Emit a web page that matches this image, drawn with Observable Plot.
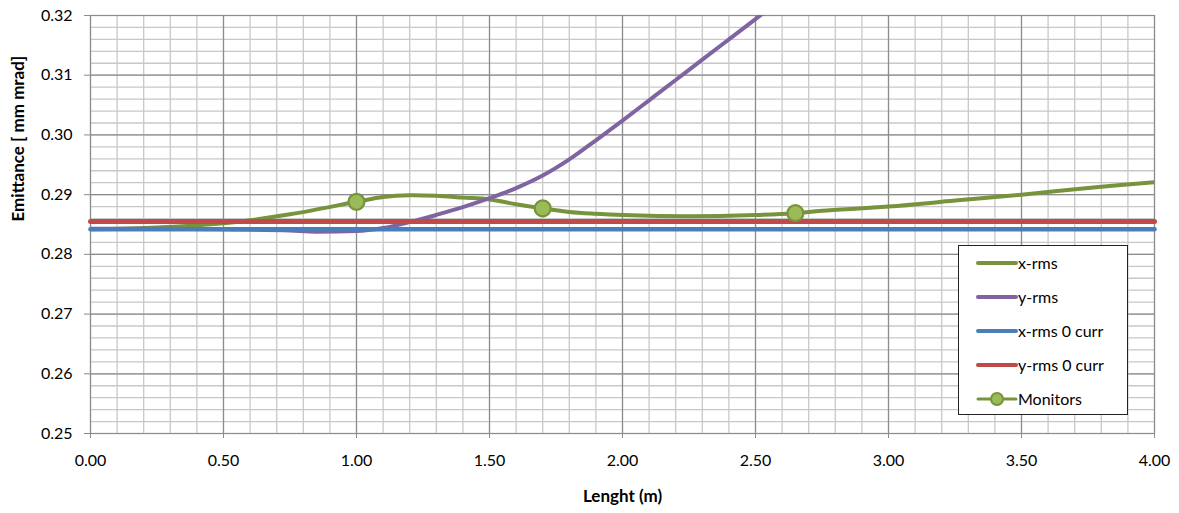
<!DOCTYPE html>
<html>
<head>
<meta charset="utf-8">
<script src="https://cdn.jsdelivr.net/npm/d3@7"></script>
<script src="https://cdn.jsdelivr.net/npm/@observablehq/plot@0.6"></script>
<style>
  html, body { margin: 0; padding: 0; background: #fff; }
  #chart { position: relative; width: 1179px; height: 513px; font-family: Lato, "Open Sans", sans-serif; }
  #legend { position: absolute; left: 958px; top: 245px; width: 170px; height: 170px;
            border: 1.5px solid #222; background: #fff; box-sizing: border-box; }
  #legend .row { position: absolute; left: 0; height: 20px; width: 100%; }
  #legend svg { position: absolute; left: 17px; top: 0; }
  #legend span { position: absolute; left: 59px; top: 0; line-height: 20px; font-size: 16px; color: #000; white-space: nowrap; }
</style>
</head>
<body>
<div id="chart"></div>
<script>
// Beam emittance along the line, with and without space charge
const lengthX  = [0, 0.25, 0.5, 0.75, 1.0, 1.1, 1.2, 1.3, 1.4, 1.5, 1.6, 1.7, 1.8, 1.9, 2.0, 2.25, 2.5, 2.65, 2.75, 3.0, 3.25, 3.5, 3.75, 4.0];
const xRms     = [0.2842, 0.2845, 0.2852, 0.2867, 0.2888, 0.2896, 0.2899, 0.2898, 0.2895, 0.2892, 0.2884, 0.2877, 0.2871, 0.2868, 0.2866, 0.2864, 0.2866, 0.2869, 0.2873, 0.2880, 0.2890, 0.2900, 0.2911, 0.2921];

const lengthY  = [0, 0.25, 0.5, 0.75, 0.85, 1.0, 1.1, 1.2, 1.3, 1.4, 1.5, 1.6, 1.7, 1.8, 1.9, 2.0, 2.1, 2.2, 2.3, 2.4, 2.5, 2.6];
const yRms     = [0.2843, 0.2843, 0.2842, 0.2840, 0.2838, 0.2839, 0.2844, 0.2854, 0.2866, 0.2879, 0.2894, 0.2911, 0.2932, 0.2959, 0.2991, 0.3024, 0.3058, 0.3092, 0.3126, 0.3160, 0.3194, 0.3228];

const lengthZero = [0, 4];
const xRmsZero   = [0.2842, 0.2842];
const yRmsZero   = [0.2855, 0.2855];

const monitorPos = [1.0, 1.7, 2.65];
const monitorVal = [0.2888, 0.2877, 0.2869];

const xTicks = [0, 0.5, 1.0, 1.5, 2.0, 2.5, 3.0, 3.5, 4.0];
const yTicks = [0.25, 0.26, 0.27, 0.28, 0.29, 0.30, 0.31, 0.32];

const legendLabels = ["x-rms", "y-rms", "x-rms 0 curr", "y-rms 0 curr", "Monitors"];
const colors = {
  x: "#77933c", y: "#8064a2", x0: "#4a7ebb", y0: "#be4b48", monFill: "#9bbb59"
};

const zip = (xs, ys) => xs.map((x, i) => ({x, y: ys[i]}));

const minorX = d3.range(0, 4.0001, 0.1);
const minorY = d3.range(0.25, 0.32001, 0.002);

const chart = Plot.plot({
  width: 1179,
  height: 513,
  marginLeft: 90,
  marginRight: 25,
  marginTop: 15,
  marginBottom: 80,
  style: {fontFamily: "Lato, 'Open Sans', sans-serif", fontSize: "16px", color: "#000", background: "#fff"},
  x: {domain: [0, 4]},
  y: {domain: [0.25, 0.32]},
  marks: [
    Plot.ruleX(minorX, {stroke: "#c8c8c8", strokeWidth: 1.3}),
    Plot.ruleY(minorY, {stroke: "#c8c8c8", strokeWidth: 1.3}),
    Plot.ruleX(xTicks, {stroke: "#8c8c8c", strokeWidth: 1.2}),
    Plot.ruleY(yTicks, {stroke: "#8c8c8c", strokeWidth: 1.2}),
    Plot.axisX({ticks: xTicks, tickFormat: d => d.toFixed(2), tickSize: 5, tickPadding: 16, stroke: "#8c8c8c", label: null}),
    Plot.axisY({ticks: yTicks, tickFormat: d => d.toFixed(2), tickSize: 6, tickPadding: 12, stroke: "#8c8c8c", label: null}),
    Plot.text(["Lenght (m)"], {frameAnchor: "bottom", dy: 63, lineAnchor: "middle", fontWeight: "bold", fontSize: 17}),
    Plot.text(["Emittance [ mm mrad]"], {frameAnchor: "left", dx: -72, dy: -3, rotate: -90, fontWeight: "bold", fontSize: 17}),
    Plot.line(zip(lengthX, xRms), {x: "x", y: "y", stroke: colors.x, strokeWidth: 4, curve: "catmull-rom", clip: true}),
    Plot.line(zip(lengthY, yRms), {x: "x", y: "y", stroke: colors.y, strokeWidth: 4, curve: "monotone-x", clip: true}),
    Plot.line(zip(lengthZero, xRmsZero), {x: "x", y: "y", stroke: colors.x0, strokeWidth: 4.5}),
    Plot.line(zip(lengthZero, yRmsZero), {x: "x", y: "y", stroke: colors.y0, strokeWidth: 5}),
    Plot.dot(zip(monitorPos, monitorVal), {x: "x", y: "y", r: 8, fill: colors.monFill, stroke: colors.x, strokeWidth: 2.2})
  ]
});

const root = document.getElementById("chart");
root.appendChild(chart);

// Legend box inside the plot area
const legend = document.createElement("div");
legend.id = "legend";
const legendColors = [colors.x, colors.y, colors.x0, colors.y0, colors.x];
legendLabels.forEach((label, i) => {
  const row = document.createElement("div");
  row.className = "row";
  row.style.top = (7 + i * 34) + "px";
  const isMon = i === 4;
  row.innerHTML =
    `<svg width="42" height="20">` +
    `<line x1="2" x2="40" y1="10" y2="10" stroke="${legendColors[i]}" stroke-width="${isMon ? 3 : 4}" stroke-linecap="round"/>` +
    (isMon ? `<circle cx="21" cy="10" r="6" fill="${colors.monFill}" stroke="${colors.x}" stroke-width="2"/>` : "") +
    `</svg><span>${label}</span>`;
  legend.appendChild(row);
});
root.appendChild(legend);
</script>
</body>
</html>
